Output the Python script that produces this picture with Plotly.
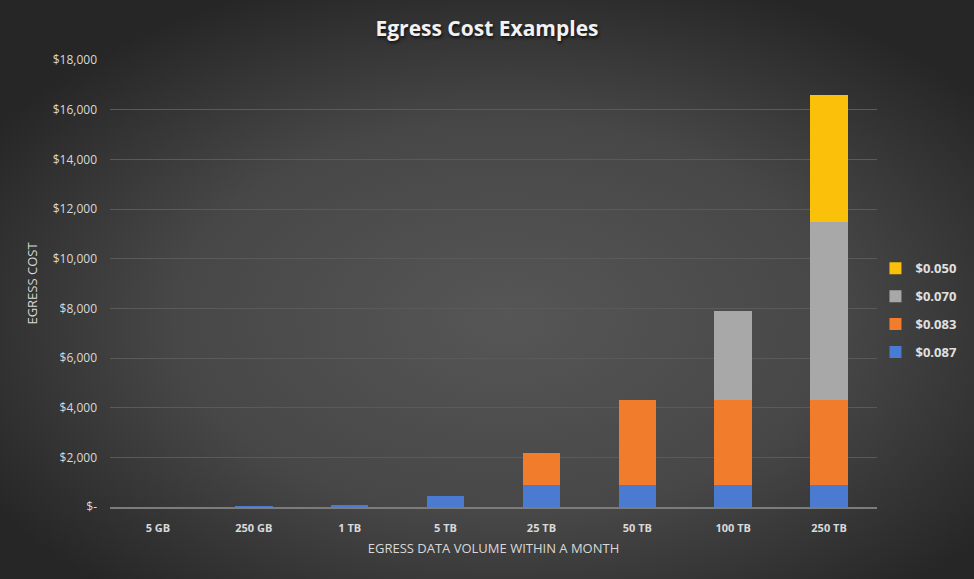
import base64
import plotly.graph_objs as go

volumes = ["5 GB", "250 GB", "1 TB", "5 TB", "25 TB", "50 TB", "100 TB", "250 TB"]

# cost per tier (USD)
tier_087 = [0, 21.3, 88.7, 445.0, 890.4, 890.4, 890.4, 890.4]
tier_083 = [0, 0, 0, 0, 1274.9, 3399.7, 3399.7, 3399.7]
tier_070 = [0, 0, 0, 0, 0, 0, 3584.0, 7168.0]
tier_050 = [0, 0, 0, 0, 0, 0, 0, 5120.0]

tier_names = ["$0.087", "$0.083", "$0.070", "$0.050"]
tier_colors = ["#4a7bd0", "#f07c2c", "#a8a8a8", "#fbc00a"]

y_ticks = [0, 2000, 4000, 6000, 8000, 10000, 12000, 14000, 16000, 18000]
y_ticktext = ["$-", "$2,000", "$4,000", "$6,000", "$8,000", "$10,000",
              "$12,000", "$14,000", "$16,000", "$18,000"]

W, H = 974, 579
L, R, T, B = 110, 97, 60, 72
pw, ph = W - L - R, H - T - B

# dark radial background like the Excel chart style
svg = (
    "<svg xmlns='http://www.w3.org/2000/svg' width='974' height='579'>"
    "<defs><radialGradient id='g' cx='52%' cy='55%' r='62%'>"
    "<stop offset='0' stop-color='#565656'/>"
    "<stop offset='0.55' stop-color='#474747'/>"
    "<stop offset='1' stop-color='#262626'/>"
    "</radialGradient></defs>"
    "<rect width='974' height='579' fill='url(#g)'/></svg>"
)
bg_src = "data:image/svg+xml;base64," + base64.b64encode(svg.encode()).decode()

fig = go.Figure()
series = [tier_087, tier_083, tier_070, tier_050]
for i, (name, vals, color) in enumerate(zip(tier_names, series, tier_colors)):
    fig.add_trace(go.Bar(
        x=volumes,
        y=vals,
        name=name,
        legendgroup=name,
        legendrank=len(tier_names) - i,  # top tier listed first
        marker=dict(color=color, line=dict(width=0)),
    ))

fig.add_layout_image(dict(
    source=bg_src,
    xref="paper", yref="paper",
    x=-L / pw, y=1 + T / ph,
    sizex=W / pw, sizey=H / ph,
    sizing="stretch",
    xanchor="left", yanchor="top",
    layer="below",
))

fig.update_layout(
    width=W,
    height=H,
    margin=dict(l=L, r=R, t=T, b=B, autoexpand=False),
    barmode="stack",
    bargap=0.61,
    paper_bgcolor="#333333",
    plot_bgcolor="rgba(0,0,0,0)",
    font=dict(family="Open Sans", color="#d9d9d9", size=12),
    title=dict(
        text="<b>Egress Cost Examples</b>",
        x=0.5, xanchor="center",
        y=1 - 29 / H, yanchor="middle",
        font=dict(size=21, color="#f2f2f2", family="Open Sans",
                  shadow="1px 2px 3px #111111"),
    ),
    legend=dict(
        x=0.998, xanchor="left",
        y=0.44, yanchor="middle",
        traceorder="grouped",
        font=dict(size=13, color="#e0e0e0", family="Open Sans", weight="bold"),
        itemwidth=30,
        tracegroupgap=8,
        bgcolor="rgba(0,0,0,0)",
    ),
    xaxis=dict(
        title=dict(text="EGRESS DATA VOLUME WITHIN A MONTH", standoff=10,
                   font=dict(size=13, color="#d9d9d9")),
        tickfont=dict(size=11, color="#d9d9d9", weight="bold"),
        ticklabelstandoff=10,
        showgrid=False,
        showline=True,
        linecolor="#7c7c7c",
        linewidth=2,
    ),
    yaxis=dict(
        title=dict(text="EGRESS COST", standoff=12,
                   font=dict(size=13, color="#d9d9d9")),
        range=[0, 18000],
        tickvals=y_ticks,
        ticktext=y_ticktext,
        tickfont=dict(size=12, color="#d9d9d9"),
        ticklabelstandoff=12,
        gridcolor="#5a5a5a",
        gridwidth=1,
        zeroline=False,
        showline=False,
    ),
)

# drop the default page margin so the chart sits at the window origin
fig.write_html("out.html", config={"displayModeBar": False},
               post_script="document.body.style.margin='0';")
